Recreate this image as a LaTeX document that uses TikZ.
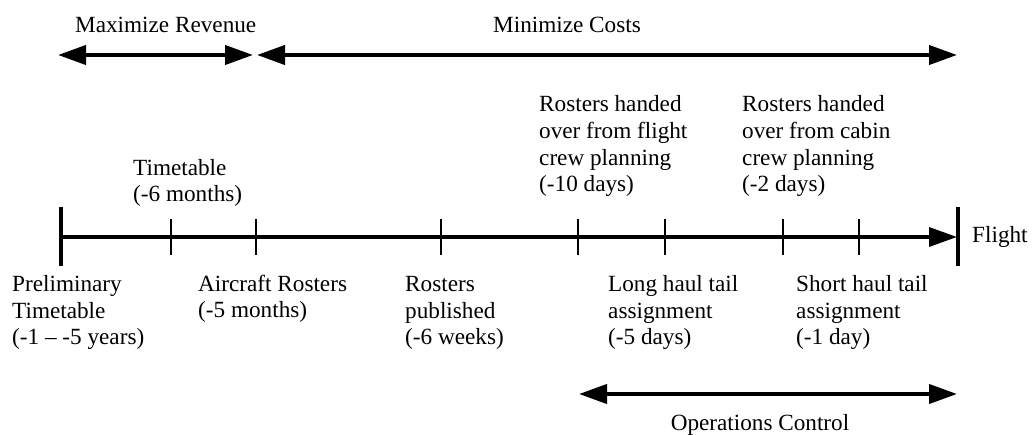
\documentclass[tikz,border=0pt]{standalone}
\usepackage{fontspec}
\setmainfont{Liberation Serif}
\usetikzlibrary{arrows.meta}
\begin{document}
\begin{tikzpicture}[x=1pt,y=-1pt,
  lbl/.style={inner sep=0pt,anchor=base west,align=left,
    font=\fontsize{23.2}{26.7}\selectfont},
  span/.style={line width=4pt,{Triangle[length=28pt,width=19pt]}-{Triangle[length=28pt,width=19pt]}},
  axis/.style={line width=3.5pt,-{Triangle[length=28pt,width=19pt]}},
  tick/.style={line width=2pt},
  endbar/.style={line width=4pt}]
\useasboundingbox (0,0) rectangle (1034,435);

% objective spans along the top
\coordinate (rs) at (58,55);
\coordinate (re) at (253,55);
\coordinate (cs) at (257,55);
\coordinate (ce) at (957,55);
\draw[span] (rs) -- (re);
\draw[span] (cs) -- (ce);
\node[lbl] (rev) at (75,33) {Maximize Revenue};
\node[lbl] (cost) at (493,33) {Minimize Costs};

% time axis (labels are placed by the baseline of their last line)
\coordinate (a0) at (61,237);
\coordinate (a1) at (957,237);
\draw[endbar] (61,207) -- (61,266);
\draw[endbar] (958,207) -- (958,266);
\draw[axis] (a0) -- (a1);
\foreach \x in {171,256,441,578,665,783,859}
  \draw[tick] (\x,219) -- (\x,255);

% milestones above the axis
\node[lbl] (tt) at (133,202) {Timetable\\(-6 months)};
\node[lbl] (fc) at (539,192) {Rosters handed\\over from flight\\crew planning\\(-10 days)};
\node[lbl] (cc) at (742,192) {Rosters handed\\over from cabin\\crew planning\\(-2 days)};
\node[lbl] (fl) at (972,243) {Flight};

% milestones below the axis
\node[lbl] (pt) at (12,345) {Preliminary\\Timetable\\(-1 -- -5 years)};
\node[lbl] (ar) at (198,318) {Aircraft Rosters\\(-5 months)};
\node[lbl] (rp) at (405,345) {Rosters\\published\\(-6 weeks)};
\node[lbl] (lh) at (608,345) {Long haul tail\\assignment\\(-5 days)};
\node[lbl] (sh) at (796,345) {Short haul tail\\assignment\\(-1 day)};

% operations control span
\coordinate (os) at (579,394);
\coordinate (oe) at (957,394);
\draw[span] (os) -- (oe);
\node[lbl,anchor=base] (oc) at (760,431) {Operations Control};
\end{tikzpicture}
\end{document}
